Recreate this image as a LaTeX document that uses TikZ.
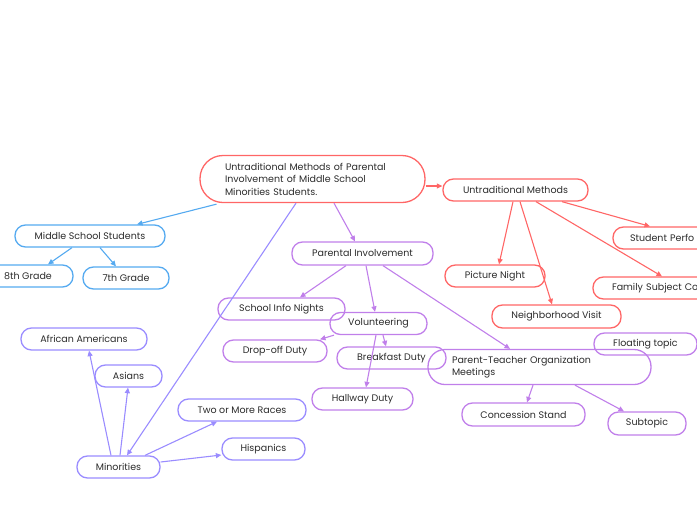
\documentclass[tikz,border=0pt]{standalone}
\usepackage{fontspec}
\setmainfont{Poppins}
\usetikzlibrary{arrows.meta}
\definecolor{cred}{HTML}{FF6666}
\definecolor{cblue}{HTML}{55AAF0}
\definecolor{cpurple}{HTML}{C07FEA}
\definecolor{clav}{HTML}{9A8CFF}
\definecolor{ctext}{HTML}{2B2B2B}
\tikzset{
  topic/.style={draw, line width=1.3pt, rounded corners=10.5pt, inner sep=0pt,
    minimum height=22pt, text=ctext, font=\fontsize{9.5}{12.5}\selectfont},
  redbox/.style={topic, draw=cred},
  bluebox/.style={topic, draw=cblue},
  purplebox/.style={topic, draw=cpurple},
  lavbox/.style={topic, draw=clav},
  conn/.style={line width=1.1pt, -{Triangle[length=5.5pt,width=5pt]}},
  redline/.style={conn, draw=cred},
  blueline/.style={conn, draw=cblue},
  purpleline/.style={conn, draw=cpurple},
  lavline/.style={conn, draw=clav},
}
\begin{document}
\begin{tikzpicture}[x=1pt,y=-1pt]
\useasboundingbox (0,0) rectangle (697,520);
\begin{scope}
\clip (0,0) rectangle (697,520);
% root
\node[redbox, rounded corners=23pt, minimum width=225pt, minimum height=47pt, text width=175pt, align=left] (root) at (312.5,179)
  {Untraditional Methods of Parental\\Involvement of Middle School\\Minorities Students.};
% red branch
\node[redbox, minimum width=145pt] (um) at (515.5,190) {Untraditional Methods};
\node[redbox, minimum width=120pt, inner xsep=17pt, text width=86pt, align=left] (sp) at (673,238) {\mbox{Student Perfo}};
\node[redbox, minimum width=130pt, inner xsep=19pt, text width=92pt, align=left] (fsc) at (658,288) {\mbox{Family Subject Co}};
\node[redbox, minimum width=100pt] (pn) at (495,276) {Picture Night};
\node[redbox, minimum width=129pt, minimum height=23pt] (nv) at (556.5,316.5) {Neighborhood Visit};
% blue branch
\node[bluebox, minimum width=150pt] (mss) at (90,236) {Middle School Students};
\node[bluebox, minimum width=90pt] (g8) at (28,276) {8th Grade};
\node[bluebox, minimum width=86pt] (g7) at (126,278) {7th Grade};
% purple branch
\node[purplebox, minimum width=141pt, minimum height=23pt] (pi) at (362.5,253.5) {Parental Involvement};
\node[purplebox, minimum width=127pt] (sin) at (281.5,309) {School Info Nights};
\node[purplebox, minimum width=97pt] (vol) at (378.5,323.5) {Volunteering};
\node[purplebox, minimum width=104pt] (dod) at (275,351) {Drop-off Duty};
\node[purplebox, minimum width=109pt] (bd) at (391.5,358) {Breakfast Duty};
\node[purplebox, minimum width=101pt] (hd) at (362.5,399) {Hallway Duty};
\node[purplebox, rounded corners=17pt, minimum width=223pt, minimum height=35pt, text width=175pt, align=left] (pto) at (539.5,367)
  {Parent-Teacher Organization\\Meetings};
\node[purplebox, minimum width=103pt] (ft) at (645.5,344) {Floating topic};
\node[purplebox, minimum width=123pt, minimum height=23pt] (cs) at (523.5,414.5) {Concession Stand};
\node[purplebox, minimum width=78pt, minimum height=23pt] (sub) at (647,423.5) {Subtopic};
% lavender branch
\node[lavbox, minimum width=83pt] (min) at (118.5,467) {Minorities};
\node[lavbox, minimum width=126pt] (aa) at (84,339) {African Americans};
\node[lavbox, minimum width=67pt] (as) at (128.5,376) {Asians};
\node[lavbox, minimum width=128pt] (tmr) at (242,410) {Two or More Races};
\node[lavbox, minimum width=83pt] (his) at (263.5,449) {Hispanics};
% connectors
\draw[redline] ([yshift=-7pt]root.east) -- ([yshift=4pt]um.west);
\draw[blueline] ([xshift=-96pt,yshift=-1pt]root.south) -- ([xshift=47pt]mss.north);
\draw[purpleline] ([xshift=21.5pt]root.south) -- ([xshift=-7.5pt]pi.north);
\draw[lavline] ([xshift=-16.5pt]root.south) -- ([xshift=8.5pt]min.north);
\draw[redline] ([xshift=46.5pt]um.south) -- ([xshift=-23pt]sp.north);
\draw[redline] ([xshift=-2.5pt]um.south) -- ([xshift=4pt]pn.north);
\draw[redline] ([xshift=4.5pt]um.south) -- ([xshift=-4.5pt]nv.north);
\draw[redline] ([xshift=20.5pt]um.south) -- ([xshift=4pt]fsc.north);
\draw[blueline] ([xshift=-18pt]mss.south) -- ([xshift=20pt]g8.north);
\draw[blueline] ([xshift=10pt]mss.south) -- ([xshift=-10pt]g7.north);
\draw[purpleline] ([xshift=-16.5pt]pi.south) -- ([xshift=18.5pt]sin.north);
\draw[purpleline] ([xshift=3.5pt]pi.south) -- ([xshift=-3.5pt]vol.north);
\draw[purpleline] ([xshift=20.5pt]pi.south) -- ([xshift=-29.5pt]pto.north);
\draw[purpleline] ([xshift=-44.5pt]vol.south) -- ([xshift=45pt]dod.north);
\draw[purpleline] ([xshift=4.5pt]vol.south) -- ([xshift=-5.5pt]bd.north);
\draw[purpleline] ([xshift=-2.5pt]vol.south) -- ([xshift=3.5pt]hd.north);
\draw[purpleline] ([xshift=-6.5pt]pto.south) -- ([xshift=3.5pt]cs.north);
\draw[purpleline] ([xshift=35.5pt]pto.south) -- ([xshift=-23pt]sub.north);
\draw[lavline] ([xshift=-7.5pt]min.north) -- ([xshift=5pt]aa.south);
\draw[lavline] ([xshift=1.5pt]min.north) -- ([xshift=-0.5pt]as.south);
\draw[lavline] ([xshift=26.5pt]min.north) -- ([xshift=-25pt]tmr.south);
\draw[lavline] ([yshift=5pt]min.east) -- ([yshift=-6pt]his.west);
\end{scope}
\end{tikzpicture}
\end{document}
